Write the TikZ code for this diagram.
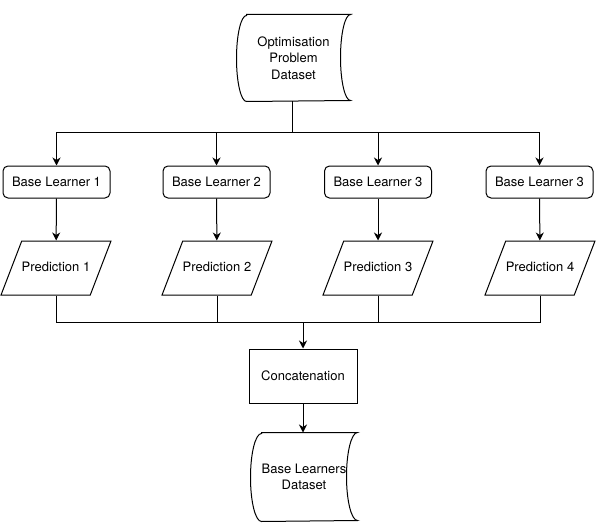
\documentclass[tikz,border=0pt]{standalone}
\usepackage{fontspec}
\setmainfont{TeX Gyre Heros}
\usetikzlibrary{shapes.geometric,arrows.meta}

\begin{document}
\begin{tikzpicture}[x=1pt,y=-1pt,line width=1pt,
  >={Stealth[length=8pt,width=8pt,inset=2.5pt]},
  every node/.style={font=\fontsize{13}{16.5}\selectfont,align=center},
  learner/.style={draw,rounded corners=5pt,minimum width=107pt,minimum height=32pt,inner sep=0pt},
  predict/.style={draw,trapezium,trapezium left angle=69,trapezium right angle=111,
    trapezium stretches body=true,minimum width=108pt,text height=9pt,text depth=3pt,
    inner xsep=0pt,inner ysep=21pt},
  process/.style={draw,rectangle,minimum width=108pt,minimum height=54pt,inner sep=0pt},
  store/.style={rectangle,inner sep=0pt}]
\useasboundingbox (0,0) rectangle (597,532);

\node[store,minimum width=113pt,minimum height=86pt] (optdata) at (293.5,58) {Optimisation\\Problem\\Dataset};
\draw ([xshift=10pt]optdata.north west) -- (optdata.north east)
  arc[start angle=90,end angle=270,x radius=10pt,y radius=43pt]
  -- ([xshift=10pt]optdata.south west)
  arc[start angle=270,end angle=90,x radius=10pt,y radius=43pt] -- cycle;

\node[learner] (bl1) at (56.5,182) {Base Learner 1};
\node[learner] (bl2) at (216.5,182) {Base Learner 2};
\node[learner] (bl3) at (378,182) {Base Learner 3};
\node[learner] (bl4) at (539.5,182) {Base Learner 3};

\node[predict] (pred1) at (56,268) {Prediction 1};
\node[predict] (pred2) at (217,268) {Prediction 2};
\node[predict] (pred3) at (378,268) {Prediction 3};
\node[predict] (pred4) at (540,268) {Prediction 4};

\node[process] (concat) at (303,376) {Concatenation};

\node[store,minimum width=106pt,minimum height=88pt] (bldata) at (304,477) {Base Learners\\Dataset};
\draw ([xshift=11pt]bldata.north west) -- (bldata.north east)
  arc[start angle=90,end angle=270,x radius=11pt,y radius=44pt]
  -- ([xshift=11pt]bldata.south west)
  arc[start angle=270,end angle=90,x radius=11pt,y radius=44pt] -- cycle;

% split and merge
\coordinate (split) at (292,133);
\coordinate (merge) at (303,322);

\draw (optdata.south -| split) -- (split);
\draw[->] (split) -| (bl1);
\draw[->] (split) -| (bl2);
\draw[->] (split) -| (bl3);
\draw[->] (split) -| (bl4);

\draw[->] (bl1) -- (pred1);
\draw[->] (bl2) -- (pred2);
\draw[->] (bl3) -- (pred3);
\draw[->] (bl4) -- (pred4);

\draw (pred1) |- (merge);
\draw (pred2) |- (merge);
\draw (pred3) |- (merge);
\draw (pred4) |- (merge);
\draw[->] (merge) -- (concat);
\draw[->] (concat) -- (bldata.north -| concat);
\end{tikzpicture}
\end{document}
